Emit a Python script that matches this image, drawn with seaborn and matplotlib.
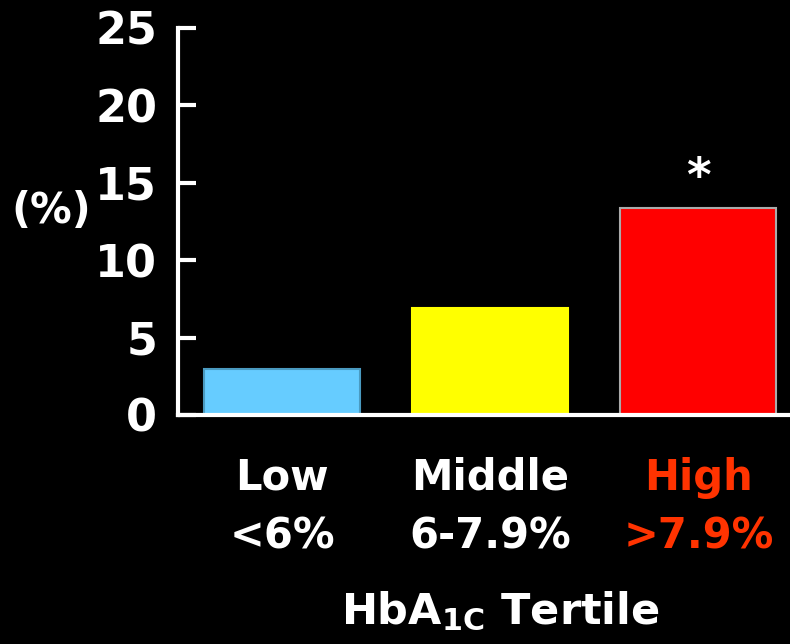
import matplotlib
matplotlib.use("Agg")
import matplotlib.pyplot as plt
import seaborn as sns
import pandas as pd

# Tertile groups and event rates (%)
categories = ["Low", "Middle", "High"]
ranges = ["<6%", "6-7.9%", ">7.9%"]
values = [3.0, 6.9, 13.4]
bar_colors = ["#66CCFF", "#FFFF00", "#FF0000"]
edge_colors = ["#4a9ac0", "#FFFF00", "#AAAAAA"]
label_colors = ["white", "white", "#FF3300"]
y_ticks = [0, 5, 10, 15, 20, 25]
significant = [False, False, True]

sns.set_theme(style="dark")
plt.rcParams["font.family"] = ["DejaVu Sans"]
plt.rcParams["font.weight"] = "bold"
plt.rcParams["mathtext.fontset"] = "custom"
plt.rcParams["mathtext.rm"] = "DejaVu Sans:bold"
plt.rcParams["mathtext.default"] = "rm"

df = pd.DataFrame({"group": categories, "value": values})

fig = plt.figure(figsize=(7.9, 6.44), dpi=100, facecolor="black")
ax = fig.add_axes([0.2253, 0.3556, 0.7747, 0.601])
ax.set_facecolor("black")

sns.barplot(data=df, x="group", y="value", hue="group", palette=bar_colors,
            legend=False, width=0.75, saturation=1, ax=ax)

for patch, ec in zip(ax.patches, edge_colors):
    patch.set_edgecolor(ec)
    patch.set_linewidth(1.5)

ax.set_ylim(0, 25)
ax.set_xlim(-0.5, 2.44)
ax.set_yticks(y_ticks)
ax.set_yticklabels([str(t) for t in y_ticks])
ax.grid(False)

for side in ["top", "right"]:
    ax.spines[side].set_visible(False)
for side in ["left", "bottom"]:
    ax.spines[side].set_visible(True)
    ax.spines[side].set_color("white")
    ax.spines[side].set_linewidth(3)

ax.tick_params(axis="y", left=True, direction="in", length=13, width=3,
               color="white", labelcolor="white", labelsize=32, pad=15)
ax.tick_params(axis="x", bottom=False, length=0, labelsize=30, pad=30)

ax.set_xticks(range(len(categories)))
ax.set_xticklabels([f"{c}\n{r}" for c, r in zip(categories, ranges)],
                   fontweight="bold", linespacing=1.5)
for lbl, col in zip(ax.get_xticklabels(), label_colors):
    lbl.set_color(col)
for lbl in ax.get_yticklabels():
    lbl.set_fontweight("bold")

ax.set_xlabel("")
ax.set_ylabel("")
fig.text(0.015, 0.672, "(%)", color="white", fontsize=30, fontweight="bold",
         ha="left", va="center")
fig.text(0.633, 0.05, r"HbA$_{1C}$ Tertile", color="white", fontsize=31,
         fontweight="bold", ha="center", va="center")

for i, (v, sig) in enumerate(zip(values, significant)):
    if sig:
        ax.text(i, v + 0.45, "*", color="white", fontsize=34, fontweight="bold",
                ha="center", va="bottom")

fig.savefig("out.png", dpi=100, facecolor="black")
